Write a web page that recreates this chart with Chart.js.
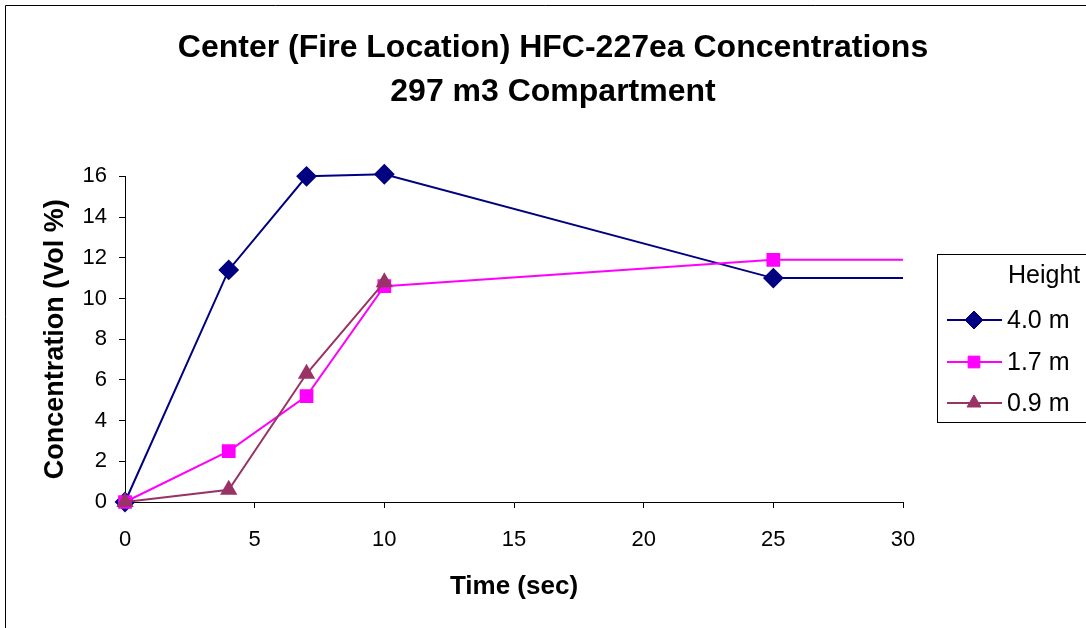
<!DOCTYPE html>
<html lang="en">
<head>
    <meta charset="UTF-8">
    <title>HFC-227ea Concentrations</title>
    <script src="https://cdn.jsdelivr.net/npm/chart.js"></script>
    <style>
        html, body { margin: 0; padding: 0; background: #fff; }
        #wrap { width: 1086px; height: 628px; position: relative; }
    </style>
</head>
<body>
    <div id="wrap"><canvas id="concChart"></canvas></div>

    <script>
        // values
        const times = [0, 4, 7, 10, 25, 30];
        const h40 = [0, 11.4, 16.0, 16.1, 11.0, 11.0];
        const h17 = [0, 2.5, 5.2, 10.6, 11.9, 11.9];
        const h09 = [0, 0.6, 6.3, 10.8];
        const seriesNames = ['4.0 m', '1.7 m', '0.9 m'];
        const xTicks = [0, 5, 10, 15, 20, 25, 30];
        const yTicks = [0, 2, 4, 6, 8, 10, 12, 14, 16];

        const FONT = "'Liberation Sans', Arial, sans-serif";

        function pts(xs, ys) {
            return ys.map((y, i) => ({ x: xs[i], y: y }));
        }
        // last point (t = 30) has no marker, line only
        function radii(n, r, lastHidden) {
            return Array.from({ length: n }, (_, i) => (lastHidden && i === n - 1) ? 0 : r);
        }

        const frame = {
            id: 'frame',
            beforeDraw(chart) {
                const ctx = chart.ctx;
                ctx.save();
                ctx.fillStyle = '#fff';
                ctx.fillRect(0, 0, chart.width, chart.height);
                ctx.strokeStyle = '#000';
                ctx.lineWidth = 1;
                ctx.beginPath();
                ctx.moveTo(5.5, chart.height);
                ctx.lineTo(5.5, 5.5);
                ctx.lineTo(chart.width, 5.5);
                ctx.stroke();
                ctx.restore();
            }
        };

        // Excel style legend: box, "Height" caption, line with marker
        const boxLegend = {
            id: 'boxLegend',
            afterDraw(chart) {
                const ctx = chart.ctx;
                ctx.save();
                ctx.strokeStyle = '#000';
                ctx.lineWidth = 1;
                ctx.strokeRect(937.5, 254.5, 200, 168);
                ctx.font = '25px ' + FONT;
                ctx.fillStyle = '#000';
                ctx.textBaseline = 'middle';
                ctx.textAlign = 'left';
                ctx.fillText('Height', 1008, 276);
                const rows = [320, 362, 403];
                chart.data.datasets.forEach((ds, i) => {
                    const y = rows[i];
                    ctx.strokeStyle = ds.borderColor;
                    ctx.lineWidth = 2;
                    ctx.beginPath();
                    ctx.moveTo(947, y);
                    ctx.lineTo(1002, y);
                    ctx.stroke();
                    ctx.fillStyle = ds.backgroundColor;
                    ctx.strokeStyle = ds.borderColor;
                    ctx.lineWidth = 1;
                    Chart.helpers.drawPoint(ctx, {
                        pointStyle: ds.pointStyle,
                        radius: ds.legendRadius,
                        borderWidth: 1
                    }, 974, y);
                    ctx.fillStyle = '#000';
                    ctx.fillText(ds.label, 1007, y + 1);
                });
                ctx.restore();
            }
        };

        new Chart(document.getElementById('concChart'), {
            type: 'line',
            data: {
                datasets: [
                    {
                        label: seriesNames[0],
                        data: pts(times, h40),
                        borderColor: '#000080',
                        backgroundColor: '#000080',
                        pointStyle: 'rectRot',
                        pointRadius: radii(h40.length, 9, true),
                        legendRadius: 9,
                        borderWidth: 2,
                        clip: false,
                        order: 3
                    },
                    {
                        label: seriesNames[1],
                        data: pts(times, h17),
                        borderColor: '#FF00FF',
                        backgroundColor: '#FF00FF',
                        pointStyle: 'rect',
                        pointRadius: radii(h17.length, 8.3, true),
                        legendRadius: 8.3,
                        borderWidth: 2,
                        clip: false,
                        order: 2
                    },
                    {
                        label: seriesNames[2],
                        data: pts(times, h09),
                        borderColor: '#993366',
                        backgroundColor: '#993366',
                        pointStyle: 'triangle',
                        pointRadius: radii(h09.length, 8, false),
                        legendRadius: 8,
                        borderWidth: 2,
                        clip: false,
                        order: 1
                    }
                ]
            },
            options: {
                responsive: true,
                maintainAspectRatio: false,
                animation: false,
                layout: { padding: { left: 20, right: 0, top: 0, bottom: 0 } },
                elements: {
                    line: { tension: 0 },
                    point: { borderWidth: 1, hoverRadius: 9 }
                },
                plugins: {
                    legend: { display: false },
                    tooltip: { enabled: false },
                    title: {
                        display: true,
                        text: ['Center (Fire Location) HFC-227ea Concentrations', '297 m3 Compartment'],
                        color: '#000',
                        font: { family: FONT, size: 32, weight: 'bold', lineHeight: 1.38 },
                        padding: { top: 26, bottom: 62 }
                    }
                },
                scales: {
                    x: {
                        type: 'linear',
                        min: 0,
                        max: 30,
                        afterBuildTicks: s => { s.ticks = xTicks.map(v => ({ value: v })); },
                        afterFit: s => { s.height = 126; },
                        border: { color: '#000', width: 1 },
                        grid: { display: true, drawOnChartArea: false, drawTicks: true, tickLength: 6, color: '#000' },
                        ticks: { color: '#000', font: { family: FONT, size: 22 }, padding: 19, maxRotation: 0 },
                        title: {
                            display: true,
                            text: 'Time (sec)',
                            color: '#000',
                            font: { family: FONT, size: 26, weight: 'bold' },
                            padding: { top: 0, bottom: 26 }
                        }
                    },
                    y: {
                        min: 0,
                        max: 16,
                        afterBuildTicks: s => { s.ticks = yTicks.map(v => ({ value: v })); },
                        afterFit: s => { s.width = 105; },
                        border: { color: '#000', width: 1 },
                        grid: { display: true, drawOnChartArea: false, drawTicks: true, tickLength: 6, color: '#000' },
                        ticks: { color: '#000', font: { family: FONT, size: 22 }, padding: 12 },
                        title: {
                            display: true,
                            text: 'Concentration (Vol %)',
                            color: '#000',
                            font: { family: FONT, size: 27, weight: 'bold' },
                            padding: { top: 19, bottom: 0 }
                        }
                    },
                    // empty right axis only reserves the legend column
                    legendSpace: {
                        type: 'linear',
                        position: 'right',
                        display: true,
                        afterFit: s => { s.width = 183; },
                        border: { display: false },
                        grid: { display: false },
                        ticks: { display: false }
                    }
                }
            },
            plugins: [frame, boxLegend]
        });
    </script>
</body>
</html>
